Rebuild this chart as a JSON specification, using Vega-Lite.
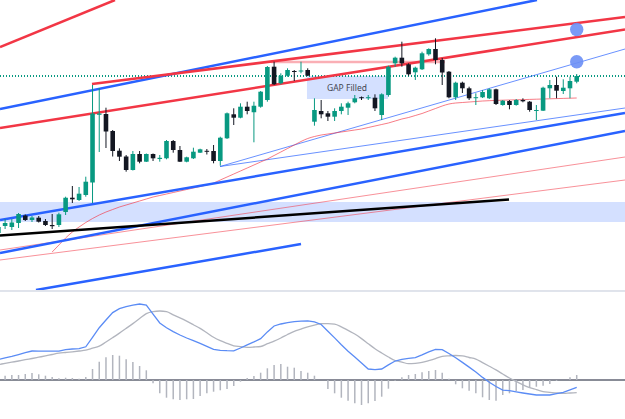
{
"$schema": "https://vega.github.io/schema/vega-lite/v6.json",
"padding": 0,
"spacing": 0,
"background": "#ffffff",
"config": {"view": {"stroke": null}, "scale": {"continuousPadding": 0}},
"datasets": {
"candles": [
{"i":-1,"o":233,"h":225,"l":235,"c":227,"ma":null,"macd":20.4,"sig":15.4,"hist":null},
{"i":0,"o":226,"h":219,"l":229,"c":223,"ma":null,"macd":22.2,"sig":16.6,"hist":4.3},
{"i":1,"o":227,"h":219,"l":230,"c":222.5,"ma":null,"macd":23.6,"sig":17.8,"hist":5},
{"i":2,"o":223,"h":213,"l":228,"c":214,"ma":null,"macd":25.4,"sig":19,"hist":5},
{"i":3,"o":215.5,"h":214.5,"l":221,"c":220,"ma":null,"macd":27.3,"sig":20.3,"hist":6},
{"i":4,"o":220,"h":216,"l":222,"c":217.5,"ma":null,"macd":29,"sig":21.5,"hist":7},
{"i":5,"o":217.7,"h":216,"l":222.5,"c":221.7,"ma":null,"macd":28.9,"sig":22.8,"hist":5.7},
{"i":6,"o":221,"h":219,"l":226,"c":225,"ma":null,"macd":28.8,"sig":24.1,"hist":4.3},
{"i":7,"o":225,"h":214,"l":229,"c":226.2,"ma":252,"macd":28.8,"sig":25.5,"hist":3},
{"i":8,"o":225,"h":212.7,"l":227,"c":214.3,"ma":245,"macd":28.8,"sig":26.8,"hist":1.7},
{"i":9,"o":212,"h":196.7,"l":215,"c":197.7,"ma":238,"macd":30.4,"sig":27.5,"hist":2.3},
{"i":10,"o":197.7,"h":186,"l":203,"c":199.3,"ma":232,"macd":31,"sig":28.2,"hist":2},
{"i":11,"o":200,"h":187,"l":201,"c":193.7,"ma":227,"macd":31.3,"sig":29,"hist":1.3},
{"i":12,"o":195,"h":176.7,"l":196.7,"c":181.7,"ma":222.5,"macd":33.2,"sig":29.9,"hist":3},
{"i":13,"o":182.5,"h":85,"l":203,"c":113.5,"ma":218.5,"macd":42.6,"sig":31.8,"hist":11},
{"i":14,"o":114.8,"h":88,"l":152,"c":113.5,"ma":215,"macd":52.3,"sig":33.8,"hist":18.3},
{"i":15,"o":114,"h":107.7,"l":148,"c":131.5,"ma":212,"macd":60,"sig":38,"hist":22.7},
{"i":16,"o":131,"h":130,"l":156.5,"c":151,"ma":209.5,"macd":67.4,"sig":42.4,"hist":25},
{"i":17,"o":150.7,"h":148.3,"l":161,"c":156.7,"ma":207,"macd":71.4,"sig":46.9,"hist":24.3},
{"i":18,"o":156.5,"h":155,"l":171.7,"c":170,"ma":205,"macd":73.4,"sig":51.6,"hist":20.7},
{"i":19,"o":170,"h":151,"l":170.5,"c":154,"ma":203,"macd":74.9,"sig":56.4,"hist":18},
{"i":20,"o":154,"h":151,"l":163.3,"c":161.7,"ma":201,"macd":76,"sig":61.4,"hist":14},
{"i":21,"o":161.7,"h":153.5,"l":162,"c":154,"ma":199,"macd":75,"sig":66.4,"hist":9.7},
{"i":22,"o":154,"h":153.5,"l":161,"c":158.3,"ma":197,"macd":65.9,"sig":68.4,"hist":-3.3},
{"i":23,"o":159,"h":155,"l":161.7,"c":157.8,"ma":195.5,"macd":57,"sig":69,"hist":-13.3},
{"i":24,"o":158.3,"h":140,"l":159.3,"c":141,"ma":194,"macd":52.3,"sig":68.3,"hist":-17.7},
{"i":25,"o":141,"h":140,"l":152.7,"c":150,"ma":192.5,"macd":48.4,"sig":65.2,"hist":-19.3},
{"i":26,"o":150,"h":146,"l":162,"c":161.7,"ma":191,"macd":45,"sig":62.2,"hist":-20},
{"i":27,"o":161.7,"h":156.7,"l":162.3,"c":157.3,"ma":189.5,"macd":42,"sig":58.9,"hist":-19.3},
{"i":28,"o":158.3,"h":147.7,"l":159,"c":151.7,"ma":188,"macd":39.3,"sig":55.3,"hist":-19},
{"i":29,"o":152.7,"h":148.7,"l":153,"c":149.3,"ma":186.5,"macd":36.7,"sig":51.6,"hist":-16},
{"i":30,"o":150.8,"h":149,"l":154.5,"c":151.8,"ma":185,"macd":33.6,"sig":47.2,"hist":-13.3},
{"i":31,"o":151,"h":145,"l":163.3,"c":161,"ma":183,"macd":30.6,"sig":42.7,"hist":-11.7},
{"i":32,"o":161,"h":136.7,"l":165.7,"c":137.7,"ma":180,"macd":29.7,"sig":39.3,"hist":-10.3},
{"i":33,"o":138.3,"h":112.5,"l":139,"c":113.3,"ma":177,"macd":29.3,"sig":36.7,"hist":-9},
{"i":34,"o":114.3,"h":108.3,"l":125,"c":117.7,"ma":174,"macd":29.2,"sig":34.2,"hist":-6},
{"i":35,"o":117.7,"h":103.3,"l":118.3,"c":106.7,"ma":171,"macd":32,"sig":33.4,"hist":-1.7},
{"i":36,"o":106.7,"h":101.7,"l":114.3,"c":111,"ma":168,"macd":35.2,"sig":32.7,"hist":2},
{"i":37,"o":112.3,"h":101.7,"l":142.3,"c":105.7,"ma":165,"macd":38.1,"sig":33,"hist":4},
{"i":38,"o":106.7,"h":91,"l":107.7,"c":91.7,"ma":162,"macd":41.3,"sig":33.5,"hist":7.3},
{"i":39,"o":100,"h":66,"l":101.7,"c":67,"ma":159,"macd":48.1,"sig":36.3,"hist":11.7},
{"i":40,"o":66.7,"h":61.7,"l":85,"c":84.3,"ma":155.5,"macd":54,"sig":38.9,"hist":15},
{"i":41,"o":83.3,"h":73.3,"l":84.3,"c":75.7,"ma":152,"macd":56,"sig":42,"hist":16},
{"i":42,"o":75.7,"h":68.3,"l":76.7,"c":70,"ma":148.5,"macd":57.4,"sig":45.5,"hist":13.3},
{"i":43,"o":71,"h":70,"l":81,"c":72,"ma":145,"macd":58.4,"sig":48.7,"hist":12.3},
{"i":44,"o":71.5,"h":61.7,"l":73.3,"c":70.5,"ma":141.5,"macd":58.8,"sig":50.9,"hist":9},
{"i":45,"o":70,"h":68.3,"l":76,"c":75.7,"ma":138.5,"macd":59.2,"sig":53.2,"hist":7.3},
{"i":46,"o":121.7,"h":98.3,"l":125.7,"c":110,"ma":136.5,"macd":58.1,"sig":54.9,"hist":4.3},
{"i":47,"o":111,"h":100,"l":118.3,"c":114.3,"ma":135,"macd":55.5,"sig":56.3,"hist":0},
{"i":48,"o":113.3,"h":111,"l":121,"c":116.7,"ma":134,"macd":48.8,"sig":56.4,"hist":-9},
{"i":49,"o":116.7,"h":108.3,"l":121,"c":111,"ma":133,"macd":42.1,"sig":55.9,"hist":-13.3},
{"i":50,"o":111,"h":103.3,"l":114.3,"c":106.7,"ma":132,"macd":35.3,"sig":53.2,"hist":-17.7},
{"i":51,"o":107.7,"h":101.7,"l":115,"c":103.3,"ma":131,"macd":28.8,"sig":49.6,"hist":-20.7},
{"i":52,"o":102.3,"h":95,"l":103.3,"c":98.3,"ma":130,"macd":22.9,"sig":46,"hist":-23.3},
{"i":53,"o":97.2,"h":96.5,"l":100,"c":98.2,"ma":129,"macd":17,"sig":41.4,"hist":-25},
{"i":54,"o":98.2,"h":95,"l":100,"c":97.2,"ma":127.5,"macd":11,"sig":36.3,"hist":-23.3},
{"i":55,"o":97.7,"h":94.3,"l":111,"c":108.3,"ma":126,"macd":10.4,"sig":31.3,"hist":-21},
{"i":56,"o":115,"h":93.3,"l":120,"c":94.3,"ma":124.5,"macd":11,"sig":27,"hist":-16.7},
{"i":57,"o":95,"h":65.7,"l":96.7,"c":66.7,"ma":123,"macd":15.1,"sig":23,"hist":-8.7},
{"i":58,"o":63.3,"h":56.7,"l":66.7,"c":57.7,"ma":121,"macd":19,"sig":19.5,"hist":-0.7},
{"i":59,"o":57.7,"h":41.7,"l":66.7,"c":63.3,"ma":119,"macd":20.7,"sig":17.9,"hist":2.7},
{"i":60,"o":64.3,"h":63.3,"l":75.7,"c":74.3,"ma":117.5,"macd":21.6,"sig":16.3,"hist":5},
{"i":61,"o":72.3,"h":66.7,"l":80,"c":67.7,"ma":115.5,"macd":22.4,"sig":16.7,"hist":6},
{"i":62,"o":69.3,"h":51.7,"l":70,"c":53.3,"ma":113.5,"macd":25.1,"sig":17.6,"hist":7.7},
{"i":63,"o":54.3,"h":48.3,"l":55.7,"c":49,"ma":111,"macd":28.1,"sig":19.4,"hist":9},
{"i":64,"o":49,"h":38.3,"l":64.3,"c":60,"ma":108.5,"macd":30.7,"sig":21.4,"hist":10},
{"i":65,"o":60,"h":58,"l":85,"c":72.5,"ma":106,"macd":30.4,"sig":23.7,"hist":7.3},
{"i":66,"o":71.7,"h":71,"l":98.3,"c":97.3,"ma":104,"macd":26.5,"sig":24.2,"hist":1.3},
{"i":67,"o":97.3,"h":81.7,"l":100,"c":82.7,"ma":103,"macd":22.3,"sig":24.5,"hist":-4.3},
{"i":68,"o":82.7,"h":81.7,"l":93,"c":88.3,"ma":102.5,"macd":17.6,"sig":24.1,"hist":-8.3},
{"i":69,"o":88.3,"h":86.7,"l":100,"c":98.3,"ma":102,"macd":12.9,"sig":22.5,"hist":-10.7},
{"i":70,"o":98.2,"h":93.3,"l":105,"c":97.2,"ma":101.5,"macd":8,"sig":20.9,"hist":-13.3},
{"i":71,"o":97.3,"h":90,"l":98,"c":92,"ma":101,"macd":2.6,"sig":17.4,"hist":-17.3},
{"i":72,"o":98.3,"h":88.3,"l":99,"c":89.3,"ma":100.7,"macd":-2.3,"sig":13.8,"hist":-20},
{"i":73,"o":89.3,"h":88.7,"l":105,"c":104,"ma":100.4,"macd":-6.5,"sig":10.1,"hist":-20.7},
{"i":74,"o":105,"h":100,"l":105.7,"c":100.7,"ma":100.2,"macd":-10.1,"sig":6,"hist":-15},
{"i":75,"o":101,"h":100,"l":109.3,"c":105,"ma":100,"macd":-10.7,"sig":2,"hist":-13.3},
{"i":76,"o":105,"h":99,"l":105.7,"c":100,"ma":99.8,"macd":-11.9,"sig":-1.4,"hist":-11},
{"i":77,"o":100,"h":98.3,"l":102.3,"c":101.3,"ma":99.6,"macd":-13,"sig":-4.8,"hist":-10},
{"i":78,"o":101.7,"h":101,"l":111.7,"c":110,"ma":99.4,"macd":-14,"sig":-7.7,"hist":-7.7},
{"i":79,"o":111,"h":105,"l":120,"c":110,"ma":99.2,"macd":-15,"sig":-9.6,"hist":-6.7},
{"i":80,"o":110.7,"h":86.7,"l":111,"c":87.7,"ma":99,"macd":-15,"sig":-11.6,"hist":-5.7},
{"i":81,"o":88.3,"h":80,"l":98.3,"c":85,"ma":98.8,"macd":-15,"sig":-12.3,"hist":-4},
{"i":82,"o":85,"h":76.7,"l":98.3,"c":90.7,"ma":98.6,"macd":-13.7,"sig":-13,"hist":-1},
{"i":83,"o":91,"h":79.3,"l":94,"c":87.7,"ma":98.4,"macd":-12.3,"sig":-13.3,"hist":0},
{"i":84,"o":88.3,"h":76.7,"l":98.3,"c":81,"ma":98.2,"macd":-9.8,"sig":-13,"hist":2.7},
{"i":85,"o":81.7,"h":74,"l":83.3,"c":76,"ma":98,"macd":-7.3,"sig":-12.7,"hist":5}
],
"trend": [
{"tool":"resistance","x1":-0.758,"y1":47,"x2":16.34,"y2":0},
{"tool":"resistance","x1":12.92,"y1":84,"x2":92.18,"y2":17},
{"tool":"resistance","x1":-0.758,"y1":128,"x2":92.18,"y2":29.5},
{"tool":"channel","x1":-0.758,"y1":109,"x2":79.09,"y2":0},
{"tool":"channel","x1":-0.758,"y1":220,"x2":92.18,"y2":113},
{"tool":"channel","x1":-0.758,"y1":253,"x2":92.18,"y2":131},
{"tool":"channel","x1":4.59,"y1":290,"x2":44.0,"y2":244},
{"tool":"support","x1":-0.758,"y1":235.5,"x2":74.93,"y2":199.5},
{"tool":"gap","x1":39.54,"y1":62,"x2":65.41,"y2":62},
{"tool":"fan","x1":31.96,"y1":166.5,"x2":92.18,"y2":49},
{"tool":"fan","x1":31.96,"y1":166.5,"x2":92.18,"y2":108},
{"tool":"envelope","x1":-0.758,"y1":250,"x2":92.18,"y2":157},
{"tool":"envelope","x1":-0.758,"y1":260,"x2":92.18,"y2":180}
],
"zones": [
{"name":"band","x1":-0.758,"x2":92.18,"y1":202,"y2":222},
{"name":"GAP Filled","x1":44.89,"x2":56.94,"y1":76,"y2":99}
],
"marks": [
{"name":"alert 1","i":85,"y":29.5},
{"name":"alert 2","i":85,"y":61.7}
]
},
"vconcat": [
{
"width": 625, "height": 290,
"layer": [
{"data": {"name":"zones"}, "mark": {"type":"rect","color":"#2962ff","opacity":0.2,"clip":true},
 "encoding": {
  "x": {"field":"x1","type":"quantitative","scale":{"domain":[-0.758,92.18],"nice":false,"zero":false,"padding":0},"axis":null},
  "x2": {"field":"x2"},
  "y": {"field":"y1","type":"quantitative","scale":{"domain":[0,290],"reverse":true,"nice":false,"zero":false,"padding":0},"axis":null},
  "y2": {"field":"y2"}}},
{"data": {"name":"zones"}, "transform":[{"filter":"datum.name == 'GAP Filled'"}],
 "mark": {"type":"text","fontSize":8.5,"font":"Noto Sans","color":"#434651"},
 "encoding": {"x":{"value":347},"y":{"value":88},"text":{"field":"name"}}},
{"data": {"name":"candles"}, "mark": {"type":"rule","color":"#089981","strokeWidth":1,"strokeDash":[1,2],"clip":true},
 "encoding": {"y":{"datum":76,"type":"quantitative"}}},
{"data": {"name":"trend"}, "transform":[{"filter":"datum.tool == 'envelope'"}],
 "mark": {"type":"rule","color":"#f23645","strokeWidth":1,"opacity":0.55,"clip":true},
 "encoding": {"x":{"field":"x1","type":"quantitative"},"x2":{"field":"x2"},"y":{"field":"y1","type":"quantitative"},"y2":{"field":"y2"}}},
{"data": {"name":"trend"}, "transform":[{"filter":"datum.tool == 'fan'"}],
 "mark": {"type":"rule","color":"#2962ff","strokeWidth":1,"opacity":0.7,"clip":true},
 "encoding": {"x":{"field":"x1","type":"quantitative"},"x2":{"field":"x2"},"y":{"field":"y1","type":"quantitative"},"y2":{"field":"y2"}}},
{"data": {"name":"trend"}, "transform":[{"filter":"datum.tool == 'gap'"}],
 "mark": {"type":"rule","color":"#f23645","strokeWidth":2.5,"opacity":0.4,"clip":true},
 "encoding": {"x":{"field":"x1","type":"quantitative"},"x2":{"field":"x2"},"y":{"field":"y1","type":"quantitative"},"y2":{"field":"y2"}}},
{"data": {"name":"candles"}, "mark": {"type":"line","color":"#f23645","strokeWidth":1,"opacity":0.65,"interpolate":"monotone","clip":true},
 "encoding": {"x":{"field":"i","type":"quantitative"},"y":{"field":"ma","type":"quantitative"}}},
{"data": {"name":"trend"}, "transform":[{"filter":"datum.tool == 'channel'"}],
 "mark": {"type":"rule","color":"#2962ff","strokeWidth":2.5,"clip":true},
 "encoding": {"x":{"field":"x1","type":"quantitative"},"x2":{"field":"x2"},"y":{"field":"y1","type":"quantitative"},"y2":{"field":"y2"}}},
{"data": {"name":"trend"}, "transform":[{"filter":"datum.tool == 'resistance'"}],
 "mark": {"type":"rule","color":"#f23645","strokeWidth":2.5,"clip":true},
 "encoding": {"x":{"field":"x1","type":"quantitative"},"x2":{"field":"x2"},"y":{"field":"y1","type":"quantitative"},"y2":{"field":"y2"}}},
{"data": {"name":"trend"}, "transform":[{"filter":"datum.tool == 'support'"}],
 "mark": {"type":"rule","color":"#000000","strokeWidth":2.5,"clip":true},
 "encoding": {"x":{"field":"x1","type":"quantitative"},"x2":{"field":"x2"},"y":{"field":"y1","type":"quantitative"},"y2":{"field":"y2"}}},
{"data": {"name":"candles"}, "mark": {"type":"rule","strokeWidth":1,"clip":true},
 "encoding": {"x":{"field":"i","type":"quantitative"},"y":{"field":"h","type":"quantitative"},"y2":{"field":"l"},
  "color":{"condition":{"test":"datum.c <= datum.o","value":"#089981"},"value":"#131722"}}},
{"data": {"name":"candles"}, "mark": {"type":"bar","size":4.6,"clip":true},
 "encoding": {"x":{"field":"i","type":"quantitative"},"y":{"field":"o","type":"quantitative"},"y2":{"field":"c"},
  "color":{"condition":{"test":"datum.c <= datum.o","value":"#089981"},"value":"#131722"}}},
{"data": {"name":"marks"}, "mark": {"type":"circle","size":180,"color":"#6b8ff5","opacity":0.9,"clip":true},
 "encoding": {"x":{"field":"i","type":"quantitative"},"y":{"field":"y","type":"quantitative"}}}
]
},
{
"width": 625, "height": 129,
"layer": [
{"data": {"name":"candles"}, "mark": {"type":"rule","color":"#e0e3eb","strokeWidth":1.5,"clip":true},
 "encoding": {"y":{"datum":89.5,"type":"quantitative","scale":{"domain":[-39,90],"nice":false,"zero":false,"padding":0},"axis":null}}},
{"data": {"name":"candles"}, "mark": {"type":"rule","color":"#888b96","strokeWidth":1,"clip":true},
 "encoding": {"y":{"datum":0,"type":"quantitative"}}},
{"data": {"name":"candles"}, "mark": {"type":"rule","color":"#b2b5be","strokeWidth":1.5,"clip":true},
 "encoding": {"x":{"field":"i","type":"quantitative","scale":{"domain":[-0.758,92.18],"nice":false,"zero":false,"padding":0},"axis":null},
  "y":{"field":"hist","type":"quantitative"},"y2":{"datum":0}}},
{"data": {"name":"candles"}, "mark": {"type":"line","color":"#b2b5be","strokeWidth":1.3,"interpolate":"monotone","clip":true},
 "encoding": {"x":{"field":"i","type":"quantitative"},"y":{"field":"sig","type":"quantitative"}}},
{"data": {"name":"candles"}, "mark": {"type":"line","color":"#5b8cf5","strokeWidth":1.3,"clip":true},
 "encoding": {"x":{"field":"i","type":"quantitative"},"y":{"field":"macd","type":"quantitative"}}}
]
}
]
}
